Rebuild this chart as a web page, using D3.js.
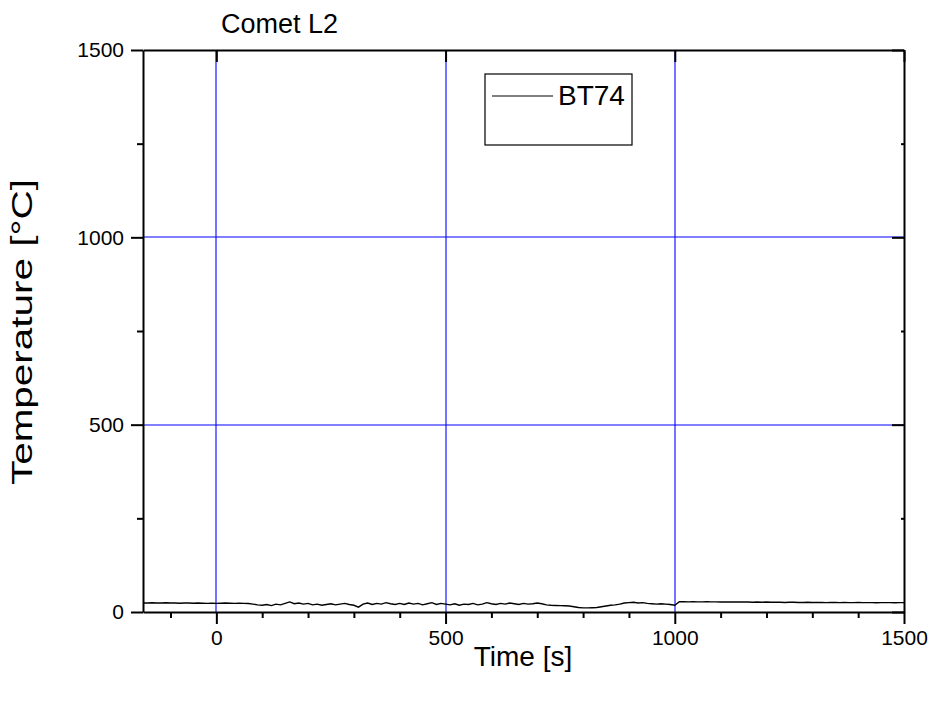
<!DOCTYPE html>
<html><head><meta charset="utf-8">
<script src="https://cdn.jsdelivr.net/npm/d3@7"></script>
<style>body{margin:0;background:#fff}text{font-family:"Liberation Sans",Arial,sans-serif}</style>
</head><body>
<svg id="c" width="935" height="701"></svg>
<script>
const xTicks = [0, 500, 1000, 1500];
const yTicks = [0, 500, 1000, 1500];
const seriesName = "BT74";
const tStart = -160, tStep = 10;
const temps = [
 24,24,24.5,24,24,24.5,24,24,23.5,24,24,23.5,24,23.5,23,23.5,23,
 23.5,24,23.5,23,23.5,23,22.5,21,19,18,
 20,17,21,19,23,27,22,24,21,23,
 19,21,18,20,22,19,21,23,20,18,
 13,21,24,20,23,21,25,22,20,23,
 20,24,21,23,19,22,25,20,23,21,
 19,22,18,21,20,23,19,21,25,22,
 20,23,21,24,22,20,23,21,22,24,
 22,19,18,17.5,17,16.5,16,14,12,11,
 11,11.5,12,14,16,18,19,21,24,25,
 26,24,25,23,22,21,22,21,20,18,
 27.5,27.5,27,27.5,27,27,27.5,27,27,26.5,
 27,26.5,27,26.5,26.5,26.5,26,26.5,26,26.5,
 26,26,26,25.5,26,26,25.5,25.5,26,25.5,
 25.5,25.5,25,25.5,25.5,25,25.5,25,25,25.5,
 25,25,25,24.5,25,25,25,24.5,25,25
];
const data = temps.map((v,i)=>({t: tStart + i*tStep, v}));

const svg = d3.select("#c");
const L=143, R=904, T=50, B=612;
const x = d3.scaleLinear().domain([-160,1500]).range([L,R]);
const y = d3.scaleLinear().domain([0,1500]).range([B,T]);
const px = v => Math.round(v);

// grid
svg.append("g").selectAll("line").data(xTicks.filter(d=>d>-160&&d<1500)).join("line")
  .attr("x1",d=>px(x(d))).attr("x2",d=>px(x(d))).attr("y1",T).attr("y2",B)
  .attr("stroke","#0000ff").attr("stroke-width",1.1);
svg.append("g").selectAll("line").data(yTicks.filter(d=>d>0&&d<1500)).join("line")
  .attr("y1",d=>px(y(d))).attr("y2",d=>px(y(d))).attr("x1",L).attr("x2",R)
  .attr("stroke","#0000ff").attr("stroke-width",1.1);

// data line
svg.append("path").datum(data)
  .attr("d", d3.line().x(d=>x(d.t)).y(d=>y(d.v)))
  .attr("fill","none").attr("stroke","#000").attr("stroke-width",1.4);

// axes
const fmt = d3.format("d");
const xMinor = d3.range(-100,1500,100).filter(d=>d%500!==0);
const yMinor = [250,750,1250];
function styleAxis(g){ g.attr("font-size",21).attr("font-family",null);
  g.select(".domain").attr("stroke-width",2);
  g.selectAll(".tick line").attr("stroke-width",2);
  g.selectAll("text").attr("fill","#000"); }

const gb = svg.append("g").attr("transform",`translate(0,${B})`)
  .call(d3.axisBottom(x).tickValues(xTicks).tickSize(12).tickSizeOuter(0).tickPadding(6).tickFormat(fmt));
styleAxis(gb);
svg.append("g").attr("transform",`translate(0,${B})`)
  .call(d3.axisBottom(x).tickValues(xMinor).tickSize(6).tickSizeOuter(0).tickFormat(""))
  .call(g=>{g.select(".domain").remove(); g.selectAll(".tick line").attr("stroke-width",2);});

const gl = svg.append("g").attr("transform",`translate(${L},0)`)
  .call(d3.axisLeft(y).tickValues(yTicks).tickSize(12).tickSizeOuter(0).tickPadding(7).tickFormat(fmt));
styleAxis(gl);
svg.append("g").attr("transform",`translate(${L},0)`)
  .call(d3.axisLeft(y).tickValues(yMinor).tickSize(6).tickSizeOuter(0).tickFormat(""))
  .call(g=>{g.select(".domain").remove(); g.selectAll(".tick line").attr("stroke-width",2);});

const gt = svg.append("g").attr("transform",`translate(0,${T})`)
  .call(d3.axisTop(x).tickValues(xTicks).tickSize(-12).tickSizeOuter(0).tickFormat(""));
styleAxis(gt);
const gr = svg.append("g").attr("transform",`translate(${R},0)`)
  .call(d3.axisRight(y).tickValues(yTicks).tickSize(-12).tickSizeOuter(0).tickFormat(""));
styleAxis(gr);
svg.append("g").attr("transform",`translate(${R},0)`)
  .call(d3.axisRight(y).tickValues(yMinor).tickSize(-3).tickSizeOuter(0).tickFormat(""))
  .call(g=>{g.select(".domain").remove(); g.selectAll(".tick line").attr("stroke-width",2);});

// titles
svg.append("text").attr("x",221).attr("y",33).attr("font-size",27).text("Comet L2");
svg.append("text").attr("x",523).attr("y",666).attr("text-anchor","middle").attr("font-size",28).text("Time [s]");
svg.append("text").attr("transform",`translate(32,332) rotate(-90)`).attr("text-anchor","middle").attr("font-size",30)
  .attr("textLength",306).attr("lengthAdjust","spacingAndGlyphs").text("Temperature [°C]");

// legend
const lg = svg.append("g");
lg.append("rect").attr("x",485).attr("y",74).attr("width",147).attr("height",71)
  .attr("fill","#fff").attr("stroke","#000").attr("stroke-width",1.2);
lg.append("line").attr("x1",492).attr("x2",553).attr("y1",96).attr("y2",96).attr("stroke","#000").attr("stroke-width",1.2);
lg.append("text").attr("x",558).attr("y",105).attr("font-size",28).text(seriesName);
</script>
</body></html>
